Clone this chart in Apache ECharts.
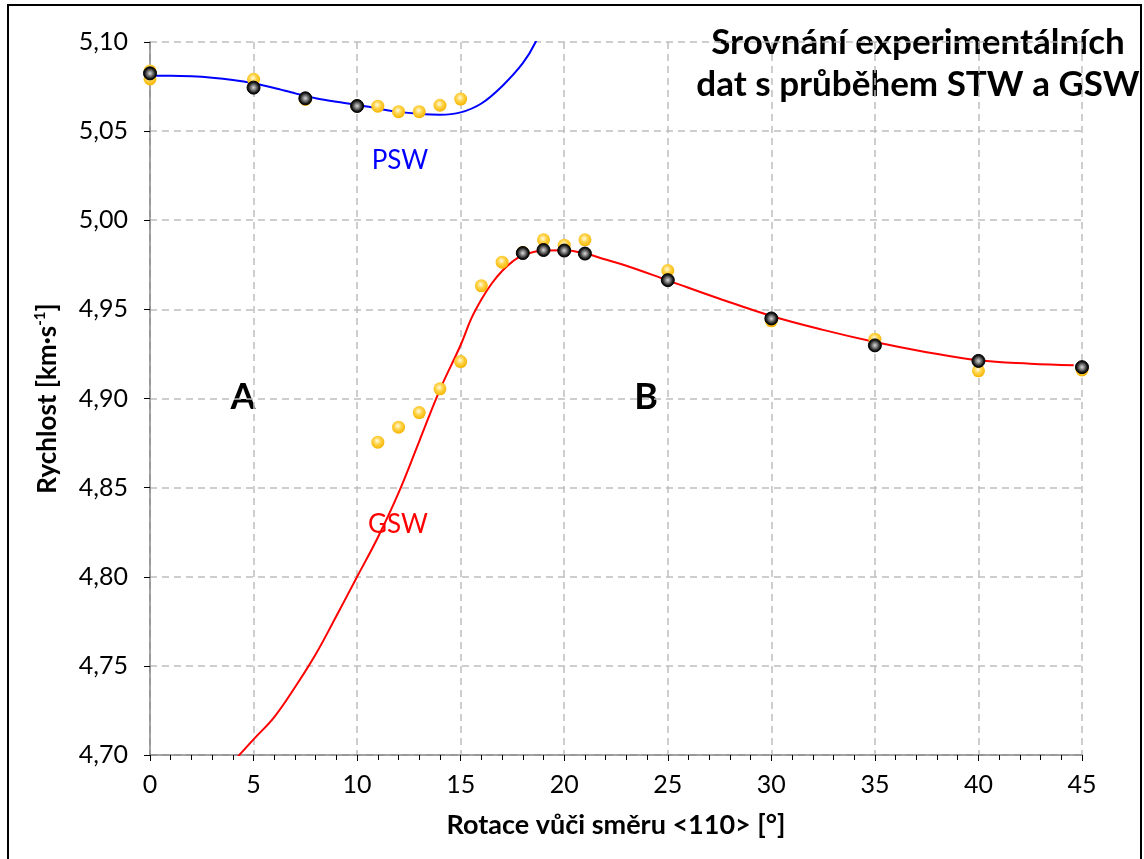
<!DOCTYPE html>
<html>
<head>
<meta charset="utf-8">
<script src="https://cdn.jsdelivr.net/npm/echarts@6/dist/echarts.min.js"></script>
<style>
  html, body { margin: 0; padding: 0; background: #fff; }
  #chart { width: 1144px; height: 859px; }
</style>
</head>
<body>
<div id="chart"></div>
<script>
// PSW theoretical curve
var pswX = [0, 1, 2, 3, 4, 5, 6, 7, 8, 9, 10, 11, 12, 13, 14, 15, 16, 17, 18, 18.6, 19];
var pswY = [5.0811, 5.0811, 5.0808, 5.0800, 5.0787, 5.0768, 5.0742, 5.0712, 5.0685, 5.0665, 5.0648,
            5.0627, 5.0608, 5.0597, 5.0592, 5.0605, 5.0655, 5.0752, 5.0881, 5.0996, 5.112];

// GSW theoretical curve
var gswX = [4, 5, 6, 7, 8, 9, 10, 11, 12, 13, 14, 15, 15.5, 16, 16.5, 17, 17.5, 18, 19, 20, 21, 22, 23, 25,
            27.5, 30, 32.5, 35, 37.5, 40, 42.5, 44.6];
var gswY = [4.696, 4.7088, 4.7213, 4.738, 4.7565, 4.778, 4.800, 4.822, 4.847, 4.876, 4.905,
            4.930, 4.9445, 4.9555, 4.9645, 4.9715, 4.9768, 4.9803, 4.983, 4.9832, 4.9813, 4.978, 4.9745, 4.9663,
            4.956, 4.9463, 4.9385, 4.9317, 4.926, 4.9214, 4.9195, 4.9186];

// experimental data (yellow)
var expX = [0, 0, 5, 7.5, 10, 11, 12, 13, 14, 15,
            11, 12, 13, 14, 15, 16, 17, 18, 19, 20, 21, 25, 30, 35, 40, 45];
var expY = [5.0838, 5.0793, 5.0791, 5.0678, 5.0641, 5.0640, 5.0609, 5.0609, 5.0645, 5.0680,
            4.8755, 4.8839, 4.8921, 4.9054, 4.9207, 4.9632, 4.9765, 4.9820, 4.9890, 4.9860,
            4.9890, 4.9718, 4.9436, 4.9333, 4.9155, 4.9160];

// fitted points (black)
var fitX = [0, 5, 7.5, 10, 18, 19, 20, 21, 25, 30, 35, 40, 45];
var fitY = [5.0824, 5.0744, 5.0684, 5.0641, 4.9816, 4.9833, 4.9830, 4.9813, 4.9664, 4.9449,
            4.9298, 4.9211, 4.9176];

function pairs(xs, ys) {
  return xs.map(function (x, i) { return [x, ys[i]]; });
}

var font = 'Lato, "Open Sans", sans-serif';
var gridColor = '#bfbfbf';
var axisColor = '#868686';

var yellowFill = {
  type: 'radial', x: 0.45, y: 0.4, r: 0.6,
  colorStops: [
    { offset: 0, color: '#fffbe6' },
    { offset: 0.45, color: '#ffd44a' },
    { offset: 1, color: '#f5b400' }
  ]
};
var blackFill = {
  type: 'radial', x: 0.5, y: 0.5, r: 0.55,
  colorStops: [
    { offset: 0, color: '#d9d9d9' },
    { offset: 0.35, color: '#7a7a7a' },
    { offset: 0.7, color: '#141414' },
    { offset: 1, color: '#000' }
  ]
};

var chart = echarts.init(document.getElementById('chart'));
chart.setOption({
  backgroundColor: '#fff',
  animation: false,
  grid: { left: 150, right: 62, top: 42, bottom: 104 },
  xAxis: {
    type: 'value', min: 0, max: 45, interval: 5,
    name: 'Rotace vůči směru <110> [°]',
    nameLocation: 'middle', nameGap: 57,
    nameTextStyle: { fontFamily: font, fontWeight: 'bold', fontSize: 27, color: '#000' },
    axisLine: { show: true, onZero: false, lineStyle: { color: axisColor, width: 1.5 } },
    axisTick: { show: true, length: 6, lineStyle: { color: '#000' } },
    minorTick: { show: true, splitNumber: 5, length: 5, lineStyle: { color: '#000' } },
    axisLabel: { fontFamily: font, fontSize: 25, color: '#000', margin: 17 },
    splitLine: { show: true, lineStyle: { color: gridColor, type: [7, 5], width: 1.5 } }
  },
  yAxis: {
    type: 'value', min: 4.70, max: 5.10, interval: 0.05,
    name: 'Rychlost [km·s{sup|-1}]',
    nameLocation: 'middle', nameGap: 87, nameRotate: 90,
    nameTextStyle: {
      fontFamily: font, fontWeight: 'bold', fontSize: 26, color: '#000',
      rich: {
        sup: { fontFamily: font, fontWeight: 'bold', fontSize: 15, color: '#000',
               verticalAlign: 'top', lineHeight: 30, padding: [0, 0, 10, 0] }
      }
    },
    axisLine: { show: true, onZero: false, lineStyle: { color: axisColor, width: 1.5 } },
    axisTick: { show: true, length: 6, lineStyle: { color: '#000' } },
    axisLabel: {
      fontFamily: font, fontSize: 25, color: '#000', margin: 22,
      formatter: function (v) { return v.toFixed(2).replace('.', ','); }
    },
    splitLine: { show: true, lineStyle: { color: gridColor, type: [7, 5], width: 1.5 } }
  },
  series: [
    {
      name: 'PSW', type: 'line', data: pairs(pswX, pswY), smooth: 0.3,
      showSymbol: false, clip: true,
      lineStyle: { color: '#0000ff', width: 2 }, z: 2
    },
    {
      name: 'GSW', type: 'line', data: pairs(gswX, gswY), smooth: 0.4,
      showSymbol: false, clip: true,
      lineStyle: { color: '#ff0000', width: 2 }, z: 2
    },
    {
      name: 'experiment', type: 'scatter', data: pairs(expX, expY),
      symbolSize: 13, itemStyle: { color: yellowFill, opacity: 1 }, z: 3
    },
    {
      name: 'fit', type: 'scatter', data: pairs(fitX, fitY),
      symbolSize: 13, itemStyle: { color: blackFill, borderColor: '#000', borderWidth: 1, opacity: 1 }, z: 4
    }
  ],
  graphic: [
    { type: 'rect', shape: { x: 8, y: 5, width: 1133, height: 900 },
      style: { fill: 'none', stroke: '#000', lineWidth: 2 }, silent: true },
    { type: 'text', x: 918, y: 43, style: { text: 'Srovnání experimentálních', fill: '#000',
      font: 'bold 35px ' + font, textAlign: 'center', textVerticalAlign: 'middle' } },
    { type: 'text', x: 918, y: 85, style: { text: 'dat s průběhem STW a GSW', fill: '#000',
      font: 'bold 35px ' + font, textAlign: 'center', textVerticalAlign: 'middle' } },
    { type: 'text', x: 400, y: 161, style: { text: 'PSW', fill: '#0000ff',
      font: '26px ' + font, textAlign: 'center', textVerticalAlign: 'middle' } },
    { type: 'text', x: 398, y: 525, style: { text: 'GSW', fill: '#ff0000',
      font: '26px ' + font, textAlign: 'center', textVerticalAlign: 'middle' } },
    { type: 'text', x: 243, y: 397, style: { text: 'A', fill: '#000',
      font: 'bold 36px ' + font, textAlign: 'center', textVerticalAlign: 'middle' } },
    { type: 'text', x: 646, y: 397, style: { text: 'B', fill: '#000',
      font: 'bold 36px ' + font, textAlign: 'center', textVerticalAlign: 'middle' } }
  ]
});
</script>
</body>
</html>
